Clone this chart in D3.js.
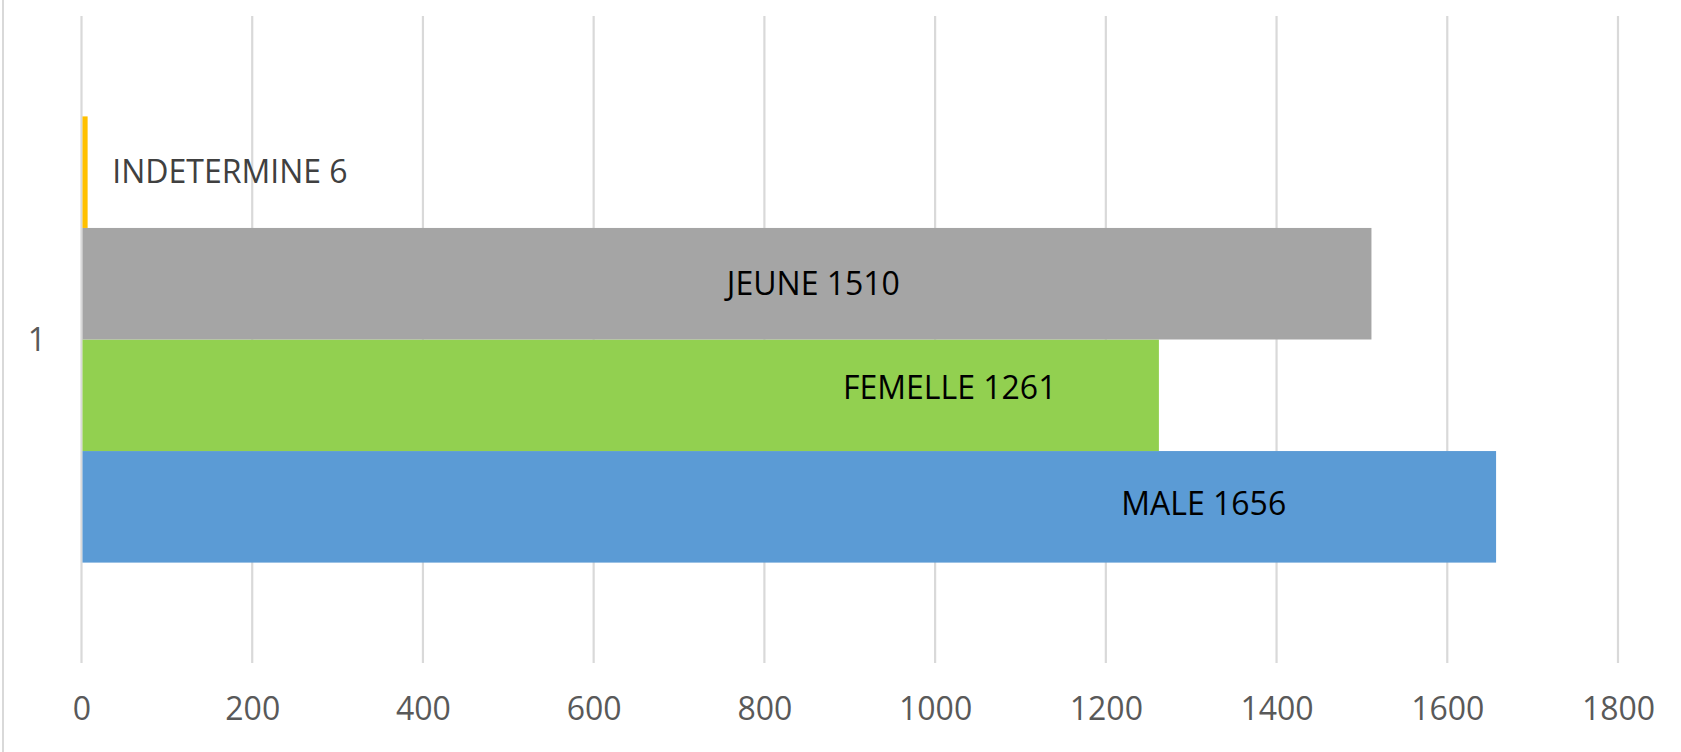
<!DOCTYPE html>
<html><head><meta charset="utf-8">
<script src="https://cdn.jsdelivr.net/npm/d3@7"></script>
<style>body{margin:0;background:#fff}svg{display:block}text{font-family:"Open Sans",sans-serif}</style>
</head><body><svg id="c" width="1681" height="752"></svg>
<script>
// Data
const categories = ["1"];
const seriesNames = ["MALE", "FEMELLE", "JEUNE", "INDETERMINE"];
const seriesValues = [1656, 1261, 1510, 6];
const seriesColors = ["#5B9BD5", "#92D050", "#A5A5A5", "#FFC000"];
const xTicks = [0, 200, 400, 600, 800, 1000, 1200, 1400, 1600, 1800];

// Layout (not data)
const labelAnchor = {MALE: 1218, FEMELLE: 892, JEUNE: 756, INDETERMINE: 36}; // axis units where label starts
const labelDy = {MALE: -3, FEMELLE: -8, JEUNE: 0, INDETERMINE: -1};

const svg = d3.select("#c");
const W = 1681, H = 752;
const plotTop = 16, plotBottom = 663;
const x = d3.scaleLinear().domain([0, 1800]).range([81.5, 1618]);
const y0 = d3.scaleBand().domain(categories).range([plotTop, plotBottom]).paddingInner(0).paddingOuter(0.225);
const y1 = d3.scaleBand().domain(seriesNames.slice().reverse()).range([0, y0.bandwidth()]);

// left border
svg.append("line").attr("x1", 3).attr("x2", 3).attr("y1", 0).attr("y2", H)
  .attr("stroke", "#D9D9D9").attr("stroke-width", 2);

// gridlines
svg.append("g").selectAll("line").data(xTicks).join("line")
  .attr("x1", d => x(d)).attr("x2", d => x(d))
  .attr("y1", plotTop).attr("y2", plotBottom)
  .attr("stroke", "#D9D9D9").attr("stroke-width", 2.2);

// x axis labels
const xAxis = d3.axisBottom(x).tickValues(xTicks).tickSize(0).tickPadding(0).tickFormat(d3.format("d"));
const gx = svg.append("g").attr("transform", `translate(0,${plotBottom})`).call(xAxis);
gx.select(".domain").remove();
gx.selectAll("text").attr("dy", null).attr("y", 57).attr("fill", "#595959")
  .style("font-size", "32px").style("font-family", '"Open Sans",sans-serif');

// category axis label
const yAxis = d3.axisLeft(y0).tickSize(0).tickPadding(0);
const gy = svg.append("g").attr("transform", "translate(46,0)").call(yAxis);
gy.select(".domain").remove();
gy.selectAll("text").attr("dy", "0.35em").attr("fill", "#595959")
  .style("font-size", "32px").style("font-family", '"Open Sans",sans-serif');

// bars
const bars = seriesNames.map((n, i) => ({name: n, value: seriesValues[i], color: seriesColors[i], cat: categories[0]}));
const g = svg.append("g");
g.selectAll("rect").data(bars).join("rect")
  .attr("x", x(0) + 1)
  .attr("y", d => y0(d.cat) + y1(d.name))
  .attr("width", d => x(d.value) - x(0))
  .attr("height", y1.bandwidth())
  .attr("fill", d => d.color);

// labels
g.selectAll("text").data(bars).join("text")
  .attr("x", d => x(labelAnchor[d.name]))
  .attr("y", d => y0(d.cat) + y1(d.name) + y1.bandwidth() / 2 + labelDy[d.name])
  .attr("dy", "0.36em")
  .attr("fill", d => d.name === "INDETERMINE" ? "#404040" : "#000")
  .style("font-size", "32px")
  .text(d => d.name + " " + d.value);
</script></body></html>
